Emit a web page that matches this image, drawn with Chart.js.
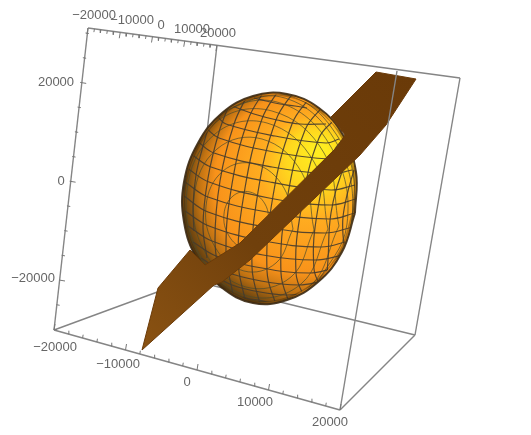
<!DOCTYPE html>
<html>
<head>
<meta charset="utf-8">
<script src="https://cdn.jsdelivr.net/npm/chart.js@4"></script>
<style>
  html, body { margin: 0; padding: 0; background: #fff; }
  canvas { display: block; }
</style>
</head>
<body>
<canvas id="plot3d" width="531" height="435"></canvas>
<script>
var cornerTopA = [88, 28], cornerTopB = [217, 45], cornerTopC = [397, 71], cornerTopD = [460, 78];
var cornerLowA = [54, 330], cornerLowB = [190, 280], cornerLowC = [340, 410], cornerLowD = [415, 335];

var xTicks = [-20000, -18000, -16000, -14000, -12000, -10000, -8000, -6000, -4000, -2000, 0, 2000, 4000, 6000, 8000, 10000, 12000, 14000, 16000, 18000, 20000];
var zTicks = [-30000, -25000, -20000, -15000, -10000, -5000, 0, 5000, 10000, 15000, 20000, 25000, 30000];

var topLabels = ["\u221220000", "\u221210000", "0", "10000", "20000"];
var topLabelPos = [[94, 15], [132, 20], [161, 25], [192, 29], [218, 33]];
var sideLabels = ["20000", "0", "\u221220000"];
var sideLabelPos = [[56, 82], [61, 181], [33, 278]];
var lowLabels = ["\u221220000", "\u221210000", "0", "10000", "20000"];
var lowLabelPos = [[55, 347], [118, 364], [187, 382], [255, 402], [330, 422]];

var sphereOutline = [[355, 213], [356, 172], [343, 135], [319, 108], [287, 94], [253, 96], [222, 113], [198, 143], [184, 182], [184, 222], [197, 259], [221, 287], [253, 303], [287, 300], [318, 282], [342, 252], [355, 213]];

var planeOutline = [[142, 350], [158, 288], [190, 250], [205, 265], [240, 243], [337, 147], [345, 135], [331, 117], [376, 72], [416, 79], [386, 125], [360, 155], [250, 260], [222, 282], [214, 285], [142, 350]];

// near-horizontal mesh curves
var meshRows = [
  [[254, 98], [266, 101], [280, 104], [295, 106], [307, 108]],
  [[232, 106], [254, 114], [277, 120], [300, 124], [326, 124]],
  [[217, 116], [226, 124], [275, 136], [326, 143], [339, 139]],
  [[206, 128], [219, 138], [274, 152], [330, 159], [347, 155]],
  [[197, 141], [214, 153], [272, 167], [331, 174], [352, 170]],
  [[191, 154], [211, 167], [270, 182], [331, 190], [355, 185]],
  [[187, 168], [209, 182], [269, 198], [330, 205], [356, 199]],
  [[185, 182], [208, 197], [267, 212], [329, 219], [355, 213]],
  [[184, 196], [208, 212], [266, 227], [325, 233], [353, 227]],
  [[185, 211], [209, 226], [264, 241], [321, 247], [349, 241]],
  [[188, 226], [212, 241], [263, 255], [315, 260], [343, 255]],
  [[193, 242], [216, 256], [262, 268], [309, 273], [335, 268]],
  [[201, 258], [223, 271], [261, 281], [299, 285], [323, 281]],
  [[215, 276], [232, 285], [260, 292], [287, 295], [307, 293]],
  [[243, 297], [250, 299], [259, 300], [267, 302], [275, 303]]
];

// near-vertical mesh curves
var meshCols = [
  [[184, 190], [185, 183], [186, 175], [187, 167], [189, 159]],
  [[194, 231], [193, 206], [196, 175], [203, 146], [210, 122]],
  [[207, 258], [203, 226], [208, 178], [219, 132], [231, 100]],
  [[220, 282], [215, 240], [220, 181], [234, 124], [249, 92]],
  [[233, 295], [226, 252], [232, 184], [248, 120], [266, 88]],
  [[246, 304], [238, 260], [245, 188], [262, 119], [280, 88]],
  [[261, 308], [252, 267], [258, 192], [276, 120], [295, 90]],
  [[277, 308], [267, 271], [273, 196], [292, 124], [311, 96]],
  [[291, 308], [281, 273], [287, 200], [305, 130], [324, 105]],
  [[307, 303], [296, 273], [302, 204], [319, 138], [336, 118]],
  [[324, 292], [314, 269], [318, 208], [334, 151], [349, 134]],
  [[326, 286], [328, 260], [331, 213], [343, 169], [353, 150]],
  [[345, 250], [343, 235], [343, 217], [347, 195], [354, 170]]
];

// the third set of curves, seen through each other as big loops
var meshLoops = [
  [[270, 226], [265, 204], [250, 192], [233, 196], [224, 214], [229, 236], [244, 248], [261, 244], [270, 226]],
  [[293, 229], [284, 188], [255, 164], [223, 171], [206, 206], [215, 247], [244, 271], [276, 263], [293, 229]],
  [[314, 230], [302, 173], [262, 139], [217, 149], [194, 197], [206, 254], [246, 287], [291, 277], [314, 230]],
  [[328, 229], [314, 162], [267, 123], [215, 134], [187, 190], [201, 257], [248, 296], [301, 284], [328, 229]],
  [[339, 226], [324, 153], [272, 111], [215, 123], [185, 184], [200, 258], [252, 300], [309, 287], [339, 226]],
  [[315, 287], [347, 224], [331, 147], [277, 102], [217, 116], [191, 155]],
  [[324, 281], [352, 220], [336, 142], [281, 97], [217, 113]],
  [[349, 242], [354, 180], [336, 134], [299, 99], [254, 93]]
];

function pts(list) {
  return list.map(function(p) { return {x: p[0], y: p[1]}; });
}

// short strokes along a box edge, the gaps are nulls so the line breaks
function tickMarks(from, to, lo, hi, values, majorStep, dx, dy) {
  var out = [];
  values.forEach(function(v) {
    var t = (v - lo) / (hi - lo);
    var x = from[0] + (to[0] - from[0]) * t;
    var y = from[1] + (to[1] - from[1]) * t;
    var k = v % majorStep === 0 ? 1 : 0.55;
    out.push({x: x, y: y}, {x: x + dx * k, y: y + dy * k}, {x: null, y: null});
  });
  return out;
}

var boxGrey = '#858585';
function boxLine(a, b, width) {
  return {data: pts([a, b]), borderColor: boxGrey, borderWidth: width || 1.4, showLine: true, pointRadius: 0, tension: 0};
}
function tickSet(data) {
  return {data: data, borderColor: '#777', borderWidth: 1, showLine: true, pointRadius: 0, tension: 0};
}
function meshLine(line, color, width) {
  return {data: pts(line), borderColor: color, borderWidth: width, showLine: true, pointRadius: 0, tension: 0.4, sphereClip: true};
}

function sphereFill(ctx) {
  var g = ctx.chart.ctx.createRadialGradient(320, 150, 6, 300, 195, 120);
  g.addColorStop(0, '#ffec20');
  g.addColorStop(0.2, '#ffd81e');
  g.addColorStop(0.4, '#ffac20');
  g.addColorStop(0.74, '#f8921a');
  g.addColorStop(0.86, '#c07212');
  g.addColorStop(0.95, '#7a4c10');
  g.addColorStop(1, '#5a3a10');
  return g;
}
function planeFill(ctx) {
  var g = ctx.chart.ctx.createLinearGradient(142, 350, 416, 79);
  g.addColorStop(0, '#8a5212');
  g.addColorStop(0.4, '#70400c');
  g.addColorStop(1, '#6a3a08');
  return g;
}

// listed back to front, reversed below because Chart.js paints index 0 last
var layers = [
  boxLine(cornerTopA, cornerLowA),
  boxLine(cornerTopB, cornerLowB),
  boxLine(cornerLowA, cornerLowB),
  boxLine(cornerLowB, cornerLowD),
  {data: pts(sphereOutline), backgroundColor: sphereFill, borderColor: 'rgba(60,42,20,0.9)', borderWidth: 2, fill: 'shape', showLine: true, pointRadius: 0, tension: 0.4}
];
meshLoops.forEach(function(l) { layers.push(meshLine(l, 'rgba(75,75,45,0.7)', 1)); });
meshRows.forEach(function(l) { layers.push(meshLine(l, 'rgba(70,60,45,0.9)', 1.2)); });
meshCols.forEach(function(l) { layers.push(meshLine(l, 'rgba(70,60,45,0.9)', 1.2)); });
layers.push({data: pts(sphereOutline), borderColor: 'rgba(70,42,8,0.4)', borderWidth: 6, showLine: true, pointRadius: 0, tension: 0.4, sphereClip: true});
layers.push({data: pts(planeOutline), backgroundColor: planeFill, borderColor: '#6a3a08', borderWidth: 1, fill: 'shape', showLine: true, pointRadius: 0, tension: 0});
layers.push(
  boxLine(cornerTopC, cornerLowC),
  boxLine(cornerTopD, cornerLowD),
  boxLine(cornerLowC, cornerLowD),
  boxLine(cornerLowA, cornerLowC, 1.6),
  boxLine(cornerTopA, cornerTopD, 1.6),
  tickSet(tickMarks(cornerLowA, cornerLowC, -20000, 20000, xTicks, 10000, 1, -6)),
  tickSet(tickMarks(cornerTopA, cornerTopB, -20000, 20000, xTicks, 10000, -1, 6)),
  tickSet(tickMarks([85.5, 33], [59, 280], 30000, -20000, zTicks, 20000, 6, 1))
);

var axisText = {
  id: 'axisText',
  afterDatasetsDraw: function(chart) {
    var ctx = chart.ctx, sx = chart.scales.x, sy = chart.scales.y;
    ctx.save();
    ctx.font = '13px "Liberation Sans"';
    ctx.fillStyle = '#666';
    ctx.textAlign = 'center';
    ctx.textBaseline = 'middle';
    [[topLabels, topLabelPos], [sideLabels, sideLabelPos], [lowLabels, lowLabelPos]].forEach(function(set) {
      set[0].forEach(function(txt, i) {
        ctx.fillText(txt, sx.getPixelForValue(set[1][i][0]), sy.getPixelForValue(set[1][i][1]));
      });
    });
    ctx.restore();
  }
};

// keeps the mesh on the ball
var ballClip = {
  id: 'ballClip',
  beforeDatasetDraw: function(chart, args) {
    if (!args.meta.controller.getDataset().sphereClip) return;
    var ctx = chart.ctx;
    ctx.save();
    ctx.beginPath();
    sphereOutline.forEach(function(p, i) {
      var x = chart.scales.x.getPixelForValue(p[0]), y = chart.scales.y.getPixelForValue(p[1]);
      if (i === 0) ctx.moveTo(x, y); else ctx.lineTo(x, y);
    });
    ctx.closePath();
    ctx.clip();
  },
  afterDatasetDraw: function(chart, args) {
    if (args.meta.controller.getDataset().sphereClip) chart.ctx.restore();
  }
};

new Chart(document.getElementById('plot3d').getContext('2d'), {
  type: 'scatter',
  data: {datasets: layers.reverse()},
  options: {
    responsive: false,
    animation: false,
    layout: {padding: 0},
    plugins: {legend: {display: false}, tooltip: {enabled: false}, title: {display: false}},
    scales: {
      x: {type: 'linear', min: 0, max: 531, display: false},
      y: {type: 'linear', min: 0, max: 435, reverse: true, display: false}
    }
  },
  plugins: [ballClip, axisText]
});
</script>
</body>
</html>
